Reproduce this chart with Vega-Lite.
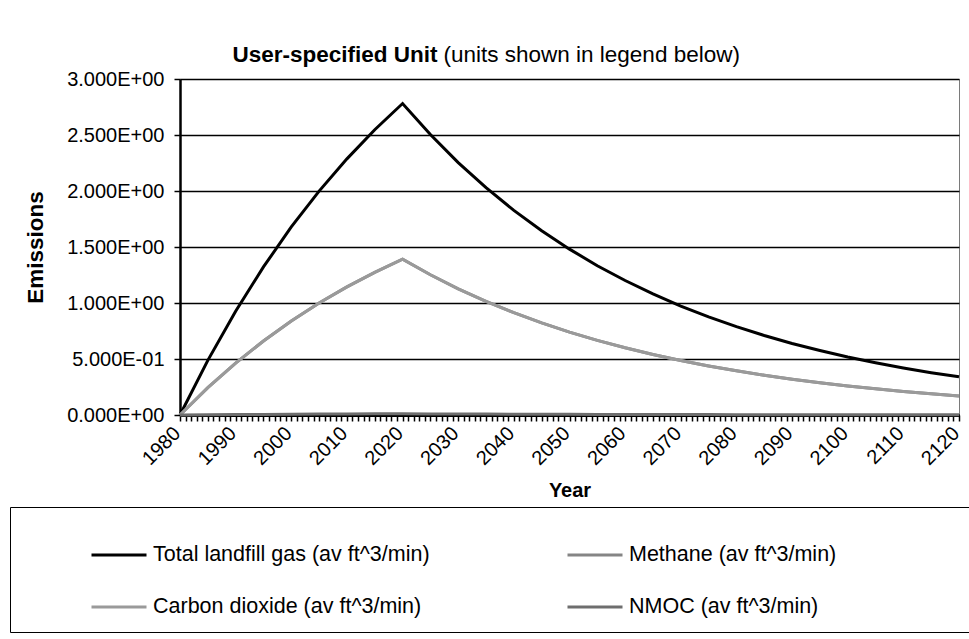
{
  "$schema": "https://vega.github.io/schema/vega-lite/v6.json",
  "width": 779,
  "height": 336,
  "autosize": {"type": "none"},
  "padding": {"left": 180, "top": 79, "right": 10, "bottom": 224},
  "background": "white",
  "config": {
    "font": "Liberation Sans",
    "view": {"stroke": "#7a7a7a", "strokeWidth": 1}
  },
  "data": {
    "values": [
      {"year": 1980, "series": "Total landfill gas (av ft^3/min)", "value": 0},
      {"year": 1985, "series": "Total landfill gas (av ft^3/min)", "value": 0.488},
      {"year": 1990, "series": "Total landfill gas (av ft^3/min)", "value": 0.927},
      {"year": 1995, "series": "Total landfill gas (av ft^3/min)", "value": 1.322},
      {"year": 2000, "series": "Total landfill gas (av ft^3/min)", "value": 1.679},
      {"year": 2005, "series": "Total landfill gas (av ft^3/min)", "value": 1.999},
      {"year": 2010, "series": "Total landfill gas (av ft^3/min)", "value": 2.287},
      {"year": 2015, "series": "Total landfill gas (av ft^3/min)", "value": 2.547},
      {"year": 2020, "series": "Total landfill gas (av ft^3/min)", "value": 2.781},
      {"year": 2025, "series": "Total landfill gas (av ft^3/min)", "value": 2.504},
      {"year": 2030, "series": "Total landfill gas (av ft^3/min)", "value": 2.254},
      {"year": 2035, "series": "Total landfill gas (av ft^3/min)", "value": 2.030},
      {"year": 2040, "series": "Total landfill gas (av ft^3/min)", "value": 1.827},
      {"year": 2045, "series": "Total landfill gas (av ft^3/min)", "value": 1.645},
      {"year": 2050, "series": "Total landfill gas (av ft^3/min)", "value": 1.481},
      {"year": 2055, "series": "Total landfill gas (av ft^3/min)", "value": 1.333},
      {"year": 2060, "series": "Total landfill gas (av ft^3/min)", "value": 1.201},
      {"year": 2065, "series": "Total landfill gas (av ft^3/min)", "value": 1.081},
      {"year": 2070, "series": "Total landfill gas (av ft^3/min)", "value": 0.973},
      {"year": 2075, "series": "Total landfill gas (av ft^3/min)", "value": 0.876},
      {"year": 2080, "series": "Total landfill gas (av ft^3/min)", "value": 0.789},
      {"year": 2085, "series": "Total landfill gas (av ft^3/min)", "value": 0.710},
      {"year": 2090, "series": "Total landfill gas (av ft^3/min)", "value": 0.639},
      {"year": 2095, "series": "Total landfill gas (av ft^3/min)", "value": 0.576},
      {"year": 2100, "series": "Total landfill gas (av ft^3/min)", "value": 0.518},
      {"year": 2105, "series": "Total landfill gas (av ft^3/min)", "value": 0.467},
      {"year": 2110, "series": "Total landfill gas (av ft^3/min)", "value": 0.420},
      {"year": 2115, "series": "Total landfill gas (av ft^3/min)", "value": 0.378},
      {"year": 2120, "series": "Total landfill gas (av ft^3/min)", "value": 0.341},
      {"year": 1980, "series": "Methane (av ft^3/min)", "value": 0},
      {"year": 1985, "series": "Methane (av ft^3/min)", "value": 0.244},
      {"year": 1990, "series": "Methane (av ft^3/min)", "value": 0.4635},
      {"year": 1995, "series": "Methane (av ft^3/min)", "value": 0.661},
      {"year": 2000, "series": "Methane (av ft^3/min)", "value": 0.8395},
      {"year": 2005, "series": "Methane (av ft^3/min)", "value": 0.9995},
      {"year": 2010, "series": "Methane (av ft^3/min)", "value": 1.1435},
      {"year": 2015, "series": "Methane (av ft^3/min)", "value": 1.2735},
      {"year": 2020, "series": "Methane (av ft^3/min)", "value": 1.3905},
      {"year": 2025, "series": "Methane (av ft^3/min)", "value": 1.252},
      {"year": 2030, "series": "Methane (av ft^3/min)", "value": 1.127},
      {"year": 2035, "series": "Methane (av ft^3/min)", "value": 1.015},
      {"year": 2040, "series": "Methane (av ft^3/min)", "value": 0.9135},
      {"year": 2045, "series": "Methane (av ft^3/min)", "value": 0.8225},
      {"year": 2050, "series": "Methane (av ft^3/min)", "value": 0.7405},
      {"year": 2055, "series": "Methane (av ft^3/min)", "value": 0.6665},
      {"year": 2060, "series": "Methane (av ft^3/min)", "value": 0.6005},
      {"year": 2065, "series": "Methane (av ft^3/min)", "value": 0.5405},
      {"year": 2070, "series": "Methane (av ft^3/min)", "value": 0.4865},
      {"year": 2075, "series": "Methane (av ft^3/min)", "value": 0.438},
      {"year": 2080, "series": "Methane (av ft^3/min)", "value": 0.3945},
      {"year": 2085, "series": "Methane (av ft^3/min)", "value": 0.355},
      {"year": 2090, "series": "Methane (av ft^3/min)", "value": 0.3195},
      {"year": 2095, "series": "Methane (av ft^3/min)", "value": 0.288},
      {"year": 2100, "series": "Methane (av ft^3/min)", "value": 0.259},
      {"year": 2105, "series": "Methane (av ft^3/min)", "value": 0.2335},
      {"year": 2110, "series": "Methane (av ft^3/min)", "value": 0.21},
      {"year": 2115, "series": "Methane (av ft^3/min)", "value": 0.189},
      {"year": 2120, "series": "Methane (av ft^3/min)", "value": 0.1705},
      {"year": 1980, "series": "Carbon dioxide (av ft^3/min)", "value": 0},
      {"year": 1985, "series": "Carbon dioxide (av ft^3/min)", "value": 0.244},
      {"year": 1990, "series": "Carbon dioxide (av ft^3/min)", "value": 0.4635},
      {"year": 1995, "series": "Carbon dioxide (av ft^3/min)", "value": 0.661},
      {"year": 2000, "series": "Carbon dioxide (av ft^3/min)", "value": 0.8395},
      {"year": 2005, "series": "Carbon dioxide (av ft^3/min)", "value": 0.9995},
      {"year": 2010, "series": "Carbon dioxide (av ft^3/min)", "value": 1.1435},
      {"year": 2015, "series": "Carbon dioxide (av ft^3/min)", "value": 1.2735},
      {"year": 2020, "series": "Carbon dioxide (av ft^3/min)", "value": 1.3905},
      {"year": 2025, "series": "Carbon dioxide (av ft^3/min)", "value": 1.252},
      {"year": 2030, "series": "Carbon dioxide (av ft^3/min)", "value": 1.127},
      {"year": 2035, "series": "Carbon dioxide (av ft^3/min)", "value": 1.015},
      {"year": 2040, "series": "Carbon dioxide (av ft^3/min)", "value": 0.9135},
      {"year": 2045, "series": "Carbon dioxide (av ft^3/min)", "value": 0.8225},
      {"year": 2050, "series": "Carbon dioxide (av ft^3/min)", "value": 0.7405},
      {"year": 2055, "series": "Carbon dioxide (av ft^3/min)", "value": 0.6665},
      {"year": 2060, "series": "Carbon dioxide (av ft^3/min)", "value": 0.6005},
      {"year": 2065, "series": "Carbon dioxide (av ft^3/min)", "value": 0.5405},
      {"year": 2070, "series": "Carbon dioxide (av ft^3/min)", "value": 0.4865},
      {"year": 2075, "series": "Carbon dioxide (av ft^3/min)", "value": 0.438},
      {"year": 2080, "series": "Carbon dioxide (av ft^3/min)", "value": 0.3945},
      {"year": 2085, "series": "Carbon dioxide (av ft^3/min)", "value": 0.355},
      {"year": 2090, "series": "Carbon dioxide (av ft^3/min)", "value": 0.3195},
      {"year": 2095, "series": "Carbon dioxide (av ft^3/min)", "value": 0.288},
      {"year": 2100, "series": "Carbon dioxide (av ft^3/min)", "value": 0.259},
      {"year": 2105, "series": "Carbon dioxide (av ft^3/min)", "value": 0.2335},
      {"year": 2110, "series": "Carbon dioxide (av ft^3/min)", "value": 0.21},
      {"year": 2115, "series": "Carbon dioxide (av ft^3/min)", "value": 0.189},
      {"year": 2120, "series": "Carbon dioxide (av ft^3/min)", "value": 0.1705},
      {"year": 1980, "series": "NMOC (av ft^3/min)", "value": 0},
      {"year": 1985, "series": "NMOC (av ft^3/min)", "value": 0.002},
      {"year": 1990, "series": "NMOC (av ft^3/min)", "value": 0.0037},
      {"year": 1995, "series": "NMOC (av ft^3/min)", "value": 0.0053},
      {"year": 2000, "series": "NMOC (av ft^3/min)", "value": 0.0067},
      {"year": 2005, "series": "NMOC (av ft^3/min)", "value": 0.008},
      {"year": 2010, "series": "NMOC (av ft^3/min)", "value": 0.0091},
      {"year": 2015, "series": "NMOC (av ft^3/min)", "value": 0.0102},
      {"year": 2020, "series": "NMOC (av ft^3/min)", "value": 0.0111},
      {"year": 2025, "series": "NMOC (av ft^3/min)", "value": 0.01},
      {"year": 2030, "series": "NMOC (av ft^3/min)", "value": 0.009},
      {"year": 2035, "series": "NMOC (av ft^3/min)", "value": 0.0081},
      {"year": 2040, "series": "NMOC (av ft^3/min)", "value": 0.0073},
      {"year": 2045, "series": "NMOC (av ft^3/min)", "value": 0.0066},
      {"year": 2050, "series": "NMOC (av ft^3/min)", "value": 0.0059},
      {"year": 2055, "series": "NMOC (av ft^3/min)", "value": 0.0053},
      {"year": 2060, "series": "NMOC (av ft^3/min)", "value": 0.0048},
      {"year": 2065, "series": "NMOC (av ft^3/min)", "value": 0.0043},
      {"year": 2070, "series": "NMOC (av ft^3/min)", "value": 0.0039},
      {"year": 2075, "series": "NMOC (av ft^3/min)", "value": 0.0035},
      {"year": 2080, "series": "NMOC (av ft^3/min)", "value": 0.0032},
      {"year": 2085, "series": "NMOC (av ft^3/min)", "value": 0.0028},
      {"year": 2090, "series": "NMOC (av ft^3/min)", "value": 0.0026},
      {"year": 2095, "series": "NMOC (av ft^3/min)", "value": 0.0023},
      {"year": 2100, "series": "NMOC (av ft^3/min)", "value": 0.0021},
      {"year": 2105, "series": "NMOC (av ft^3/min)", "value": 0.0019},
      {"year": 2110, "series": "NMOC (av ft^3/min)", "value": 0.0017},
      {"year": 2115, "series": "NMOC (av ft^3/min)", "value": 0.0015},
      {"year": 2120, "series": "NMOC (av ft^3/min)", "value": 0.0014}
    ]
  },
  "layer": [
    {
      "mark": {"type": "line", "strokeWidth": 3, "clip": false},
      "encoding": {
        "x": {
          "field": "year",
          "type": "quantitative",
          "scale": {"domain": [1980, 2120], "nice": false, "zero": false},
          "axis": {
            "title": "Year",
            "titleFontSize": 20,
            "titleFontWeight": "bold",
            "titleColor": "black",
            "titlePadding": 12,
            "values": [1980,1981,1982,1983,1984,1985,1986,1987,1988,1989,1990,1991,1992,1993,1994,1995,1996,1997,1998,1999,2000,2001,2002,2003,2004,2005,2006,2007,2008,2009,2010,2011,2012,2013,2014,2015,2016,2017,2018,2019,2020,2021,2022,2023,2024,2025,2026,2027,2028,2029,2030,2031,2032,2033,2034,2035,2036,2037,2038,2039,2040,2041,2042,2043,2044,2045,2046,2047,2048,2049,2050,2051,2052,2053,2054,2055,2056,2057,2058,2059,2060,2061,2062,2063,2064,2065,2066,2067,2068,2069,2070,2071,2072,2073,2074,2075,2076,2077,2078,2079,2080,2081,2082,2083,2084,2085,2086,2087,2088,2089,2090,2091,2092,2093,2094,2095,2096,2097,2098,2099,2100,2101,2102,2103,2104,2105,2106,2107,2108,2109,2110,2111,2112,2113,2114,2115,2116,2117,2118,2119,2120],
            "format": "d",
            "labelExpr": "datum.value % 10 == 0 ? datum.label : ''",
            "labelAngle": -45,
            "labelAlign": "right",
            "labelBaseline": "middle",
            "labelFontSize": 20,
            "labelColor": "black",
            "labelPadding": 9,
            "labelOffset": -3,
            "labelOverlap": false,
            "labelFlush": false,
            "grid": false,
            "domainColor": "black",
            "domainWidth": 3,
            "tickColor": "black",
            "tickWidth": 1.5,
            "tickSize": 6
          }
        },
        "y": {
          "field": "value",
          "type": "quantitative",
          "scale": {"domain": [0, 3], "nice": false},
          "axis": {
            "title": "Emissions",
            "titleFontSize": 22.5,
            "titleFontWeight": "bold",
            "titleColor": "black",
            "titleX": -133,
            "titleY": 168,
            "titleAngle": -90,
            "titleAlign": "center",
            "titleBaseline": "bottom",
            "values": [0, 0.5, 1, 1.5, 2, 2.5, 3],
            "labelExpr": "datum.value == 0 ? '0.000E+00' : (datum.value < 1 ? format(datum.value * 10, '.3f') + 'E-01' : format(datum.value, '.3f') + 'E+00')",
            "labelFontSize": 20,
            "labelColor": "black",
            "labelPadding": 10,
            "grid": true,
            "gridColor": "black",
            "gridWidth": 1.5,
            "domainColor": "black",
            "domainWidth": 2.5,
            "tickColor": "black",
            "tickWidth": 1.5,
            "tickSize": 6
          }
        },
        "color": {
          "field": "series",
          "type": "nominal",
          "scale": {
            "domain": ["Total landfill gas (av ft^3/min)", "Methane (av ft^3/min)", "Carbon dioxide (av ft^3/min)", "NMOC (av ft^3/min)"],
            "range": ["#000000", "#858585", "#9a9a9a", "#6e6e6e"]
          },
          "legend": {
            "title": "\u00a0",
            "titleFontSize": 14,
            "titlePadding": 9,
            "orient": "none",
            "direction": "horizontal",
            "legendX": -170,
            "legendY": 428,
            "columns": 2,
            "columnPadding": 69,
            "rowPadding": 28,
            "clipHeight": 24,
            "padding": 13,
            "strokeColor": "black",
            "fillColor": "white",
            "symbolType": "stroke",
            "symbolSize": 3025,
            "symbolStrokeWidth": 3,
            "symbolOffset": 67,
            "labelOffset": 5,
            "labelFontSize": 21.5,
            "labelColor": "black",
            "labelLimit": 800,
            "labelExpr": "datum.label == 'Methane (av ft^3/min)' ? datum.label + '\u00a0\u00a0\u00a0\u00a0\u00a0\u00a0\u00a0\u00a0\u00a0\u00a0\u00a0\u00a0\u00a0\u00a0\u00a0\u00a0\u00a0\u00a0\u00a0\u00a0\u00a0\u200b' : datum.label"
          }
        }
      }
    },
    {
      "mark": {"type": "line", "strokeOpacity": 0},
      "encoding": {
        "x": {
          "field": "year",
          "type": "quantitative",
          "axis": {
            "orient": "top",
            "title": "User-specified Unit",
            "titleFontSize": 22.5,
            "titleFontWeight": "bold",
            "titleColor": "black",
            "titleX": 52,
            "titleY": -18,
            "titleAlign": "left",
            "titleBaseline": "alphabetic",
            "domain": false,
            "ticks": false,
            "labels": false,
            "grid": false
          }
        },
        "y": {"field": "value", "type": "quantitative", "axis": null}
      }
    },
    {
      "mark": {"type": "line", "strokeOpacity": 0},
      "encoding": {
        "x": {"field": "year", "type": "quantitative", "axis": null},
        "y": {
          "field": "value",
          "type": "quantitative",
          "axis": {
            "orient": "right",
            "title": "(units shown in legend below)",
            "titleFontSize": 22.5,
            "titleFontWeight": "normal",
            "titleColor": "black",
            "titleAngle": 0,
            "titleX": -516,
            "titleY": -18,
            "titleAlign": "left",
            "titleBaseline": "alphabetic",
            "domain": false,
            "ticks": false,
            "labels": false,
            "grid": false
          }
        }
      }
    }
  ],
  "resolve": {"axis": {"x": "independent", "y": "independent"}}
}
